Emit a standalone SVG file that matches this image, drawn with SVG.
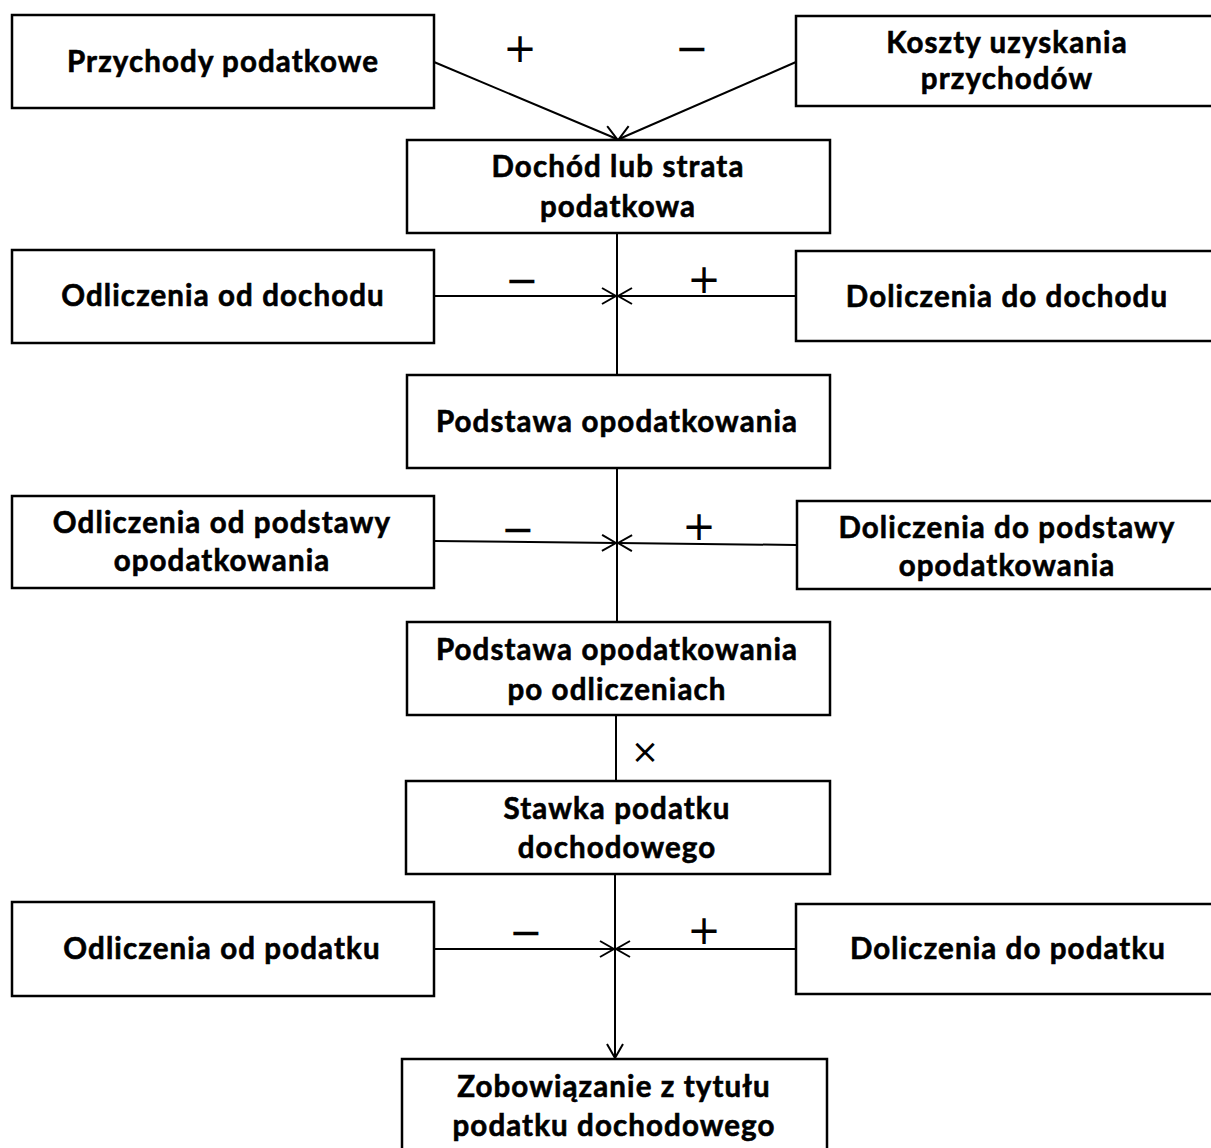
<svg xmlns="http://www.w3.org/2000/svg" width="1211" height="1148" viewBox="0 0 1211 1148">
<style>
.box{fill:#fff;stroke:#000;stroke-width:2.5}
.t{font-family:Lato,"Open Sans","Liberation Sans",sans-serif;font-weight:bold;font-size:29.5px;letter-spacing:1.1px;fill:#000;stroke:#000;stroke-width:0.6;text-anchor:middle}
.c{fill:none;stroke:#000;stroke-width:2}
.s{font-family:"DejaVu Sans","Liberation Sans",sans-serif;font-size:40px;fill:#000;text-anchor:middle;dominant-baseline:central}
</style>
<defs>
<marker id="arr" viewBox="0 0 16 18" refX="15" refY="9" markerWidth="16" markerHeight="18" orient="auto" markerUnits="userSpaceOnUse">
<path d="M1,1 L15,9 L1,17" fill="none" stroke="#000" stroke-width="2"/>
</marker>
</defs>
<rect width="1211" height="1148" fill="#fff"/>
<g id="connectors">
<line class="c" x1="434" y1="62" x2="617" y2="139" marker-end="url(#arr)"/>
<line class="c" x1="796" y1="62" x2="619" y2="139" marker-end="url(#arr)"/>
<line class="c" x1="617" y1="233" x2="617" y2="375"/>
<line class="c" x1="434" y1="296" x2="616" y2="296" marker-end="url(#arr)"/>
<line class="c" x1="796" y1="296" x2="618" y2="296" marker-end="url(#arr)"/>
<line class="c" x1="617" y1="468" x2="617" y2="622"/>
<line class="c" x1="434" y1="541" x2="616" y2="543" marker-end="url(#arr)"/>
<line class="c" x1="796" y1="545" x2="618" y2="543" marker-end="url(#arr)"/>
<line class="c" x1="616" y1="715" x2="616" y2="781"/>
<line class="c" x1="615" y1="874" x2="615" y2="1058" marker-end="url(#arr)"/>
<line class="c" x1="434" y1="949" x2="614" y2="949" marker-end="url(#arr)"/>
<line class="c" x1="796" y1="949" x2="616" y2="949" marker-end="url(#arr)"/>
<text class="s" x="520" y="48">+</text>
<text class="s" x="692" y="48">−</text>
<text class="s" x="522" y="280">−</text>
<text class="s" x="704" y="279">+</text>
<text class="s" x="518" y="529">−</text>
<text class="s" x="699" y="526">+</text>
<text class="s" x="645" y="751" style="font-size:34px">×</text>
<text class="s" x="526" y="932">−</text>
<text class="s" x="704" y="930">+</text>
</g>
<g id="n1"><rect class="box" x="12" y="15" width="422" height="93"/><text class="t" x="223" y="72">Przychody podatkowe</text></g>
<g id="n2"><rect class="box" x="796" y="16" width="425" height="90"/><text class="t" x="1007" y="53">Koszty uzyskania</text><text class="t" x="1007" y="89">przychodów</text></g>
<g id="n3"><rect class="box" x="407" y="140" width="423" height="93"/><text class="t" x="618" y="177">Dochód lub strata</text><text class="t" x="618" y="217">podatkowa</text></g>
<g id="n4"><rect class="box" x="12" y="250" width="422" height="93"/><text class="t" x="223" y="306">Odliczenia od dochodu</text></g>
<g id="n5"><rect class="box" x="796" y="251" width="425" height="90"/><text class="t" x="1007" y="307">Doliczenia do dochodu</text></g>
<g id="n6"><rect class="box" x="407" y="375" width="423" height="93"/><text class="t" x="617" y="432">Podstawa opodatkowania</text></g>
<g id="n7"><rect class="box" x="12" y="496" width="422" height="92"/><text class="t" x="222" y="533">Odliczenia od podstawy</text><text class="t" x="222" y="571">opodatkowania</text></g>
<g id="n8"><rect class="box" x="797" y="501" width="424" height="88"/><text class="t" x="1007" y="538">Doliczenia do podstawy</text><text class="t" x="1007" y="576">opodatkowania</text></g>
<g id="n9"><rect class="box" x="407" y="622" width="423" height="93"/><text class="t" x="617" y="660">Podstawa opodatkowania</text><text class="t" x="617" y="700">po odliczeniach</text></g>
<g id="n10"><rect class="box" x="406" y="781" width="424" height="93"/><text class="t" x="617" y="819">Stawka podatku</text><text class="t" x="617" y="858">dochodowego</text></g>
<g id="n11"><rect class="box" x="12" y="902" width="422" height="94"/><text class="t" x="222" y="959">Odliczenia od podatku</text></g>
<g id="n12"><rect class="box" x="796" y="904" width="425" height="90"/><text class="t" x="1008" y="959">Doliczenia do podatku</text></g>
<g id="n13"><rect class="box" x="402" y="1059" width="425" height="100"/><text class="t" x="614" y="1097">Zobowiązanie z tytułu</text><text class="t" x="614" y="1136">podatku dochodowego</text></g>
</svg>
